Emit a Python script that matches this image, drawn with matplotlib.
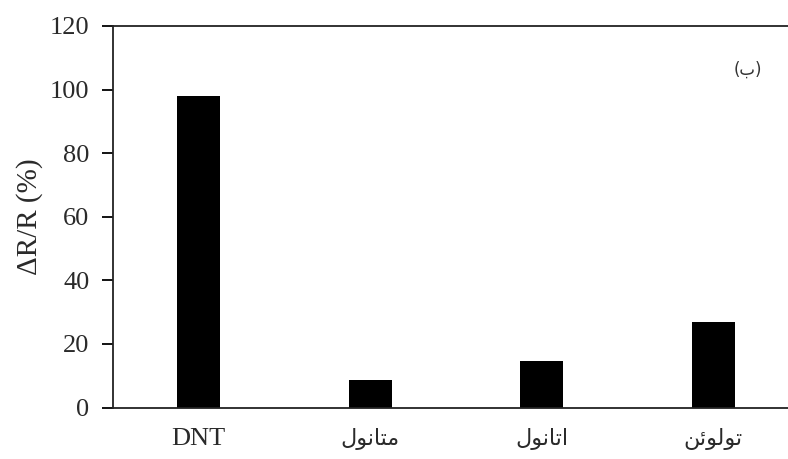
import matplotlib
matplotlib.use("Agg")
import matplotlib.pyplot as plt

# Arabic letter forms: (isolated, final, initial, medial); None = letter does not join forward
FORMS = {
    "\u0627": ("\uFE8D", "\uFE8E", None, None),      # alef
    "\u0628": ("\uFE8F", "\uFE90", "\uFE91", "\uFE92"),  # beh
    "\u062A": ("\uFE95", "\uFE96", "\uFE97", "\uFE98"),  # teh
    "\u0646": ("\uFEE5", "\uFEE6", "\uFEE7", "\uFEE8"),  # noon
    "\u0648": ("\uFEED", "\uFEEE", None, None),      # waw
    "\u0644": ("\uFEDD", "\uFEDE", "\uFEDF", "\uFEE0"),  # lam
    "\u0645": ("\uFEE1", "\uFEE2", "\uFEE3", "\uFEE4"),  # meem
    "\u0626": ("\uFE89", "\uFE8A", "\uFE8B", "\uFE8C"),  # yeh with hamza
}


def shape_arabic(word):
    """Contextual shaping plus visual (right-to-left) ordering."""
    out = []
    n = len(word)
    for i, ch in enumerate(word):
        if ch not in FORMS:
            out.append(ch)
            continue
        iso, fin, ini, med = FORMS[ch]
        prev = word[i - 1] if i > 0 else None
        nxt = word[i + 1] if i < n - 1 else None
        joins_prev = prev in FORMS and FORMS[prev][2] is not None
        joins_next = nxt in FORMS and ini is not None
        if joins_prev and joins_next:
            out.append(med)
        elif joins_prev:
            out.append(fin)
        elif joins_next:
            out.append(ini)
        else:
            out.append(iso)
    return "".join(reversed(out))


categories = ["DNT", "متانول", "اتانول", "تولوئن"]
values = [98.0, 8.5, 14.5, 27.0]
y_ticks = [0, 20, 40, 60, 80, 100, 120]
panel_tag = "ب"

W, H = 788, 459
fig = plt.figure(figsize=(W / 100, H / 100), dpi=100)
left, right, bottom, top = 113, 799, 407.5, 26
ax = fig.add_axes([left / W, (H - bottom) / H, (right - left) / W, (bottom - top) / H])

x = list(range(len(categories)))
ax.bar(x, values, width=0.25, color="black", edgecolor="black", linewidth=0)

ax.set_xlim(-0.5, len(categories) - 0.5)
ax.set_ylim(0, 120)
ax.set_yticks(y_ticks)
ax.set_yticklabels([str(t) for t in y_ticks], family="Liberation Serif", fontsize=19, color="#2a2a2a")
ax.tick_params(axis="y", direction="out", length=8, width=1.3, pad=9)
ax.tick_params(axis="x", length=0, pad=15)

ax.set_xticks(x)
labels = [c if c.isascii() else shape_arabic(c) for c in categories]
ax.set_xticklabels(labels, fontsize=19, color="#2a2a2a")
for lab, raw in zip(ax.get_xticklabels(), categories):
    if raw.isascii():
        lab.set_family("Liberation Serif")
    else:
        lab.set_family(["DejaVu Sans"])
        lab.set_fontsize(16)

for side in ("left", "bottom", "top", "right"):
    ax.spines[side].set_linewidth(1.3)
    ax.spines[side].set_color("#222222")

ax.set_ylabel("ΔR/R (%)", family="Liberation Serif", fontsize=21, color="#2a2a2a", labelpad=5)

ax.text(0.925, 0.885, "(" + shape_arabic(panel_tag) + ")", transform=ax.transAxes,
        ha="center", va="center", fontsize=12, family=["DejaVu Sans"], color="#333333")

fig.savefig("out.png", dpi=100)
